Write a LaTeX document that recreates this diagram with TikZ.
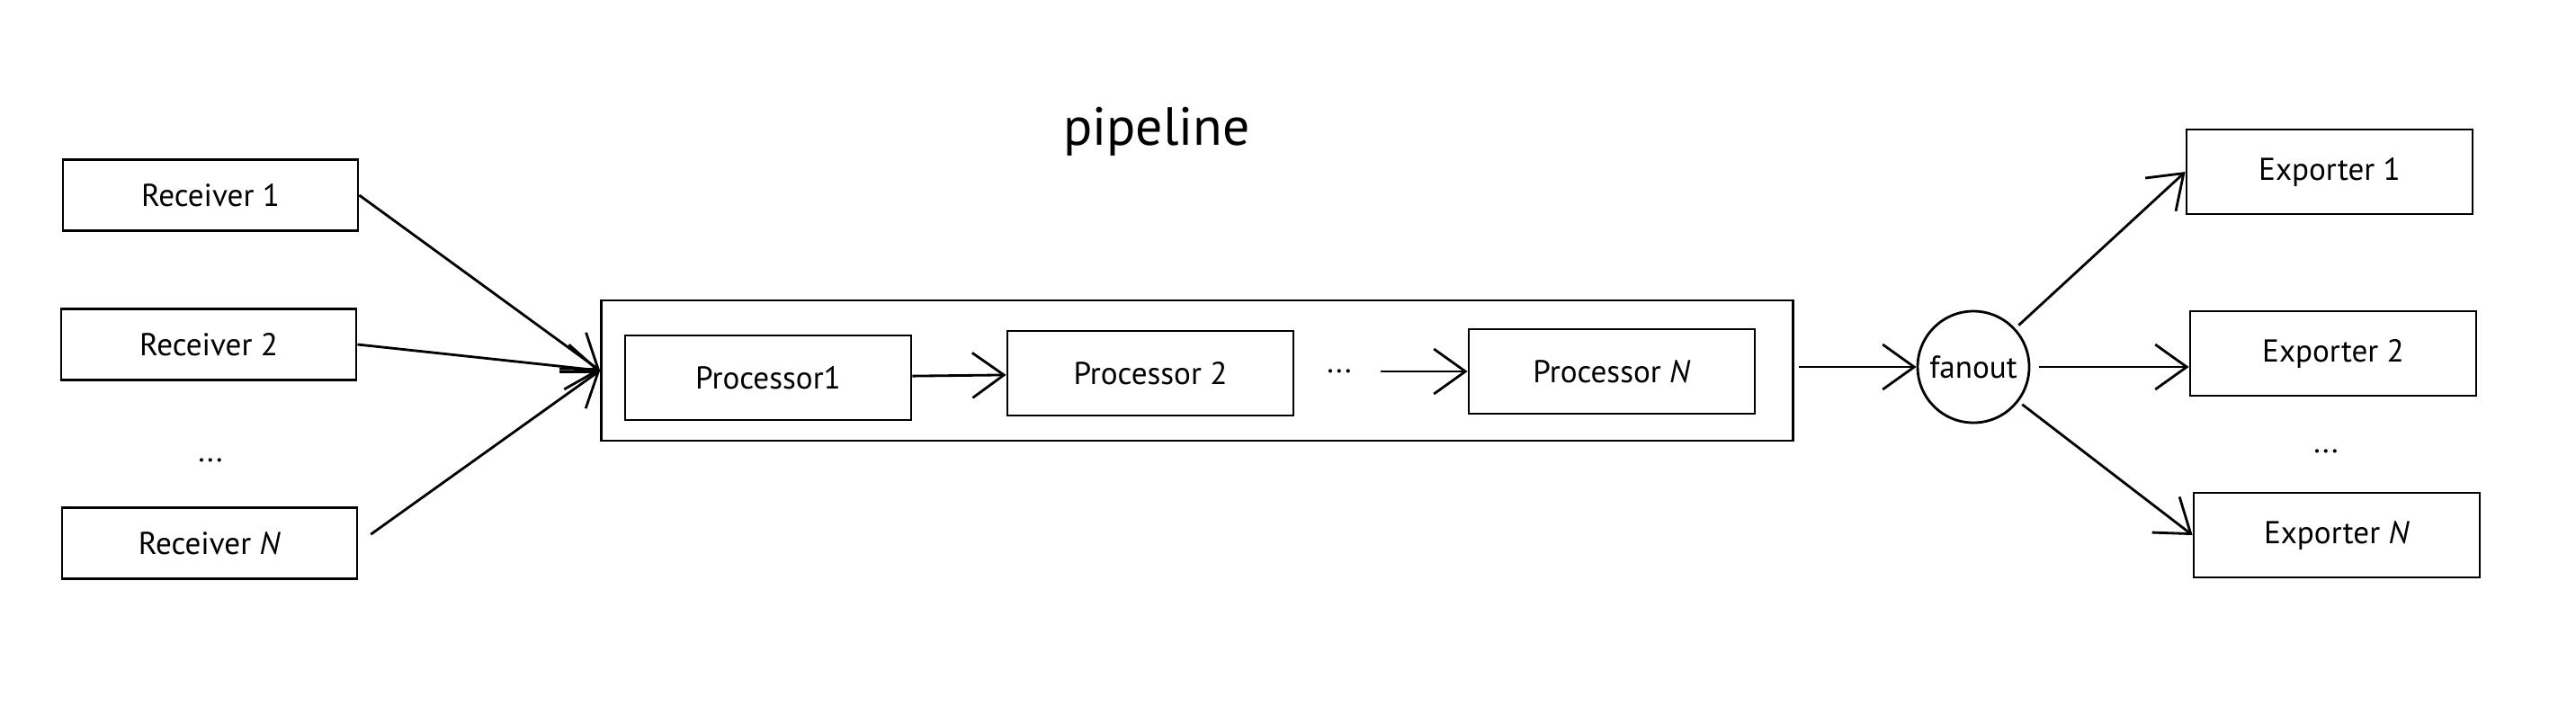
\documentclass[tikz,border=0pt]{standalone}
\usepackage{fontspec}
\setmainfont{PT Sans}
\usetikzlibrary{arrows.meta, positioning, shapes.geometric}

\begin{document}
\begin{tikzpicture}[
  box/.style={rectangle, draw, line width=0.8pt, minimum width=3.18cm,
              minimum height=0.94cm, align=center, font=\fontsize{10}{12}\selectfont},
  rbox/.style={box, minimum width=3.28cm, minimum height=0.79cm},
  dots/.style={font=\fontsize{10}{12}\selectfont},
  arrow/.style={-{Straight Barb[length=3.5mm, width=5mm]}, line width=0.8pt},
]
  \useasboundingbox (0,0) rectangle (28.64,-7.84);

  \node[font=\fontsize{17}{20}\selectfont] (title) at (12.86,-1.46) {pipeline};

  % receivers
  \node[rbox] (rcv1) at (2.34,-2.17) {Receiver 1};
  \node[rbox] (rcv2) at (2.32,-3.83) {Receiver 2};
  \node[dots] (rdots) at (2.34,-5.12) {...};
  \node[rbox] (rcvN) at (2.33,-6.04) {Receiver \textit{N}};

  % pipeline
  \node[box, minimum width=13.25cm, minimum height=1.56cm] (pipe) at (13.31,-4.12) {};
  \node[box] (proc1) at (8.54,-4.20) {Processor1};
  \node[box] (proc2) at (12.79,-4.15) {Processor 2};
  \node[dots] (pdots) at (14.89,-4.13) {...};
  \node[box] (procN) at (17.92,-4.13) {Processor \textit{N}};

  \node[circle, draw, line width=0.8pt, minimum size=1.24cm, inner sep=0pt,
        font=\fontsize{10}{12}\selectfont] (fan) at (21.94,-4.08) {fanout};

  % exporters
  \node[box] (exp1) at (25.90,-1.91) {Exporter 1};
  \node[box] (exp2) at (25.94,-3.93) {Exporter 2};
  \node[dots] (edots) at (25.86,-5.02) {...};
  \node[box] (expN) at (25.98,-5.95) {Exporter \textit{N}};

  \draw[arrow] (rcv1.east) -- (pipe.west);
  \draw[arrow] (rcv2.east) -- (pipe.west);
  \draw[arrow, shorten <=0.17cm] (rcvN.east) -- (pipe.west);
  \draw[arrow] (proc1) -- (proc2);
  \draw[arrow, shorten <=0.2cm] (pdots) -- (procN);
  \draw[arrow, shorten <=0.05cm] (pipe.east |- fan) -- (fan);
  \draw[arrow, shorten <=0.05cm] (fan) -- (exp1.west);
  \draw[arrow, shorten <=0.1cm] (fan) -- (fan -| exp2.west);
  \draw[arrow, shorten <=0.05cm] (fan) -- (expN.west);
\end{tikzpicture}
\end{document}
